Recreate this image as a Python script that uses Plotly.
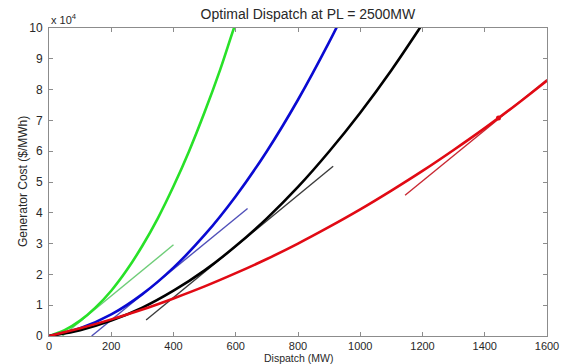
import plotly.graph_objects as go

# Dispatch (MW) sample points and generator cost ($/MWh)
p_green = [0, 50, 100, 150, 200, 250, 300, 350, 400, 450, 500, 550, 600, 620]
c_green = [0, 1900, 5000, 9300, 14700, 21400, 29300, 38300, 48600, 60000, 72700, 86500, 101600, 106500]

p_blue = [0, 100, 200, 300, 400, 500, 600, 700, 800, 900, 950]
c_blue = [0, 2500, 7000, 13600, 22200, 32800, 45400, 60000, 76700, 95400, 105500]

p_black = [0, 100, 200, 300, 400, 500, 600, 700, 800, 900, 1000, 1100, 1200, 1250]
c_black = [0, 1900, 5000, 9200, 14700, 21300, 29200, 38200, 48400, 59900, 72500, 86300, 101300, 109000]

p_red = [0, 100, 200, 300, 400, 500, 600, 700, 800, 900, 1000, 1100, 1200, 1300, 1400, 1500, 1600]
c_red = [0, 2500, 5400, 8600, 12200, 16100, 20400, 25000, 30000, 35400, 41100, 47200, 53600, 60400, 67500, 75000, 82900]

# Marginal-cost (tangent) segments at the optimal dispatch points
tan_green_p = [43, 400]
tan_green_c = [0, 29600]
tan_blue_p = [137, 638]
tan_blue_c = [0, 41400]
tan_black_p = [312, 913]
tan_black_c = [5200, 55100]
tan_red_p = [1144, 1600]
tan_red_c = [45700, 83300]

red_dispatch_p = [1444]
red_dispatch_c = [70800]

x_ticks = [0, 200, 400, 600, 800, 1000, 1200, 1400, 1600]
y_ticks = [0, 10000, 20000, 30000, 40000, 50000, 60000, 70000, 80000, 90000, 100000]
y_ticktext = ["0", "1", "2", "3", "4", "5", "6", "7", "8", "9", "10"]

fig = go.Figure()

def curve(x, y, color, width, shape="spline"):
    fig.add_trace(go.Scatter(x=x, y=y, mode="lines", line=dict(color=color, width=width, shape=shape),
                             hoverinfo="skip", showlegend=False))

# tangents first (under curves)
curve(tan_green_p, tan_green_c, "rgb(110,205,120)", 1.4, "linear")
curve(tan_blue_p, tan_blue_c, "rgb(80,80,185)", 1.4, "linear")
curve(tan_black_p, tan_black_c, "rgb(60,60,60)", 1.4, "linear")
curve(tan_red_p, tan_red_c, "rgb(200,40,50)", 1.4, "linear")

curve(p_green, c_green, "rgb(40,225,40)", 2.6)
curve(p_blue, c_blue, "rgb(10,10,210)", 2.6)
curve(p_black, c_black, "rgb(0,0,0)", 2.6)
curve(p_red, c_red, "rgb(225,10,20)", 2.6)

fig.add_trace(go.Scatter(x=red_dispatch_p, y=red_dispatch_c, mode="markers",
                         marker=dict(color="rgb(225,10,20)", size=5), hoverinfo="skip", showlegend=False))

font_family = "Liberation Sans, Arial"
text_color = "rgb(40,40,40)"

axis_common = dict(showline=True, linecolor="rgb(140,140,140)", linewidth=1, mirror="ticks",
                   ticks="inside", ticklen=4, tickcolor="rgb(140,140,140)", showgrid=False,
                   zeroline=False, automargin=False)

fig.update_layout(
    width=565, height=364,
    margin=dict(l=49, r=18, t=28, b=28),
    paper_bgcolor="white", plot_bgcolor="white",
    title=dict(text="Optimal Dispatch at PL = 2500MW", x=0.545, xanchor="center", y=0.96, yanchor="middle",
               font=dict(family=font_family, size=14, color=text_color)),
    xaxis=dict(range=[0, 1600], tickvals=x_ticks, ticklabelstandoff=0,
               tickfont=dict(family=font_family, size=11, color=text_color), **axis_common),
    yaxis=dict(range=[0, 100000], tickvals=y_ticks, ticktext=y_ticktext, ticklabelstandoff=3,
               tickfont=dict(family=font_family, size=12, color=text_color), **axis_common),
    annotations=[
        dict(text="x 10<sup>4</sup>", xref="paper", yref="paper", x=0.0, y=1.0,
             xanchor="left", yanchor="bottom", showarrow=False,
             font=dict(family=font_family, size=11, color=text_color)),
        dict(text="Dispatch (MW)", xref="paper", yref="paper", x=0.5, y=0,
             xanchor="center", yanchor="middle", yshift=-22, showarrow=False,
             font=dict(family=font_family, size=10.5, color=text_color)),
        dict(text="Generator Cost ($/MWh)", xref="paper", yref="paper", x=-0.052, y=0.5,
             xanchor="center", yanchor="middle", textangle=-90, showarrow=False,
             font=dict(family=font_family, size=12, color=text_color)),
    ],
)

fig.write_html("out.html", config={"displayModeBar": False},
               post_script="document.body.style.margin='0';document.body.style.overflow='hidden';")
